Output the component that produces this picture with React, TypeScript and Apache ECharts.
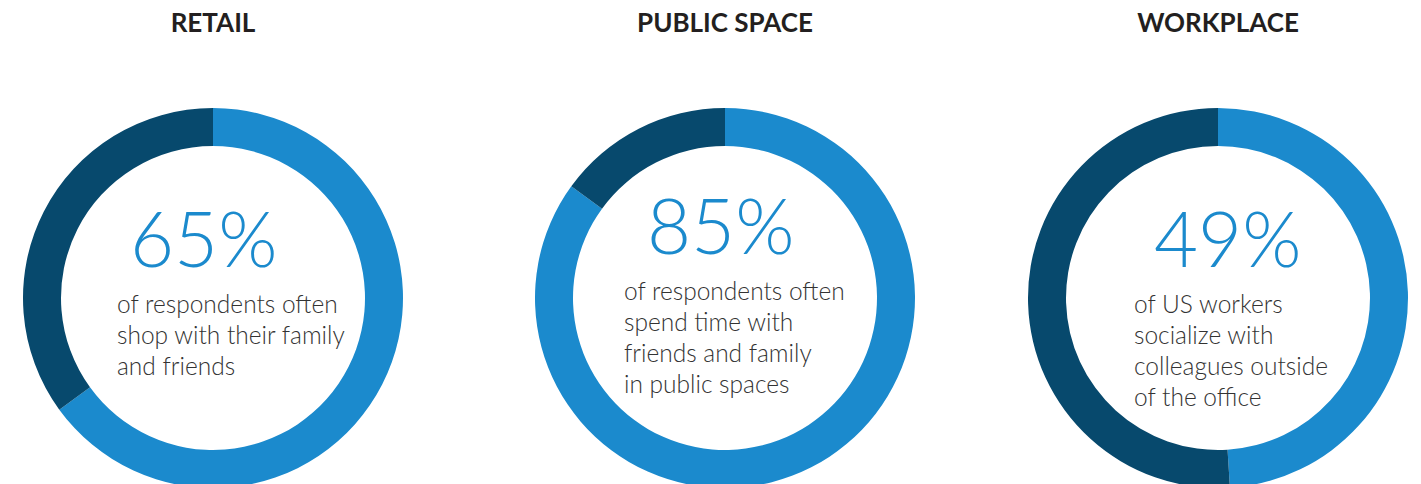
import React, { useEffect, useRef } from "react";
import * as echarts from "echarts";

const titles = ["RETAIL", "PUBLIC SPACE", "WORKPLACE"];
const percents = [65, 85, 49];
const remainders = [35, 15, 51];
const captions = [
  ["of respondents often", "shop with their family", "and friends"],
  ["of respondents often", "spend time with", "friends and family", "in public spaces"],
  ["of US workers", "socialize with", "colleagues outside", "of the office"],
];

const LIGHT = "#1b8acd";
const DARK = "#07496d";
const centersX = [213, 725, 1218];
const centerY = 298;
const numberX = [130, 647, 1154];
const numberY = [237, 224, 237];
const captionX = [117, 624, 1134];
const captionY0 = [303, 290, 303];
const LINE_H = 31;

export default function App() {
  const ref = useRef<HTMLDivElement>(null);
  useEffect(() => {
    document.body.style.margin = "0";
    const chart = echarts.init(ref.current!, undefined, { renderer: "svg" });
    const series: any[] = titles.map((t, i) => ({
      type: "pie",
      name: t,
      center: [centersX[i], centerY],
      radius: [152, 190],
      startAngle: 90,
      clockwise: true,
      silent: true,
      avoidLabelOverlap: false,
      label: { show: false },
      labelLine: { show: false },
      emphasis: { disabled: true },
      itemStyle: { borderWidth: 0 },
      data: [
        { value: percents[i], itemStyle: { color: LIGHT } },
        { value: remainders[i], itemStyle: { color: DARK } },
      ],
    }));
    const graphic: any[] = [];
    titles.forEach((t, i) => {
      graphic.push({
        type: "text",
        x: centersX[i],
        y: 22,
        style: {
          text: t,
          fontSize: 26,
          fontWeight: 700,
          fontFamily: "Lato",
          fill: "#231f20",
          align: "center",
          verticalAlign: "middle",
        },
      });
      graphic.push({
        type: "text",
        x: numberX[i],
        y: numberY[i],
        style: {
          text: percents[i] + "%",
          fontSize: 76,
          fontWeight: 300,
          fontFamily: "Lato",
          fill: LIGHT,
          align: "left",
          verticalAlign: "middle",
        },
      });
      captions[i].forEach((line, j) => {
        graphic.push({
          type: "text",
          x: captionX[i],
          y: captionY0[i] + j * LINE_H,
          style: {
            text: line,
            fontSize: 24.5,
            fontWeight: 300,
            fontFamily: "Lato",
            fill: "#333333",
            align: "left",
            verticalAlign: "middle",
          },
        });
      });
    });
    chart.setOption({
      animation: false,
      backgroundColor: "#ffffff",
      series,
      graphic,
    });
    return () => chart.dispose();
  }, []);
  return (
    <div
      ref={ref}
      style={{ position: "fixed", left: 0, top: 0, width: 1421, height: 484 }}
    />
  );
}
